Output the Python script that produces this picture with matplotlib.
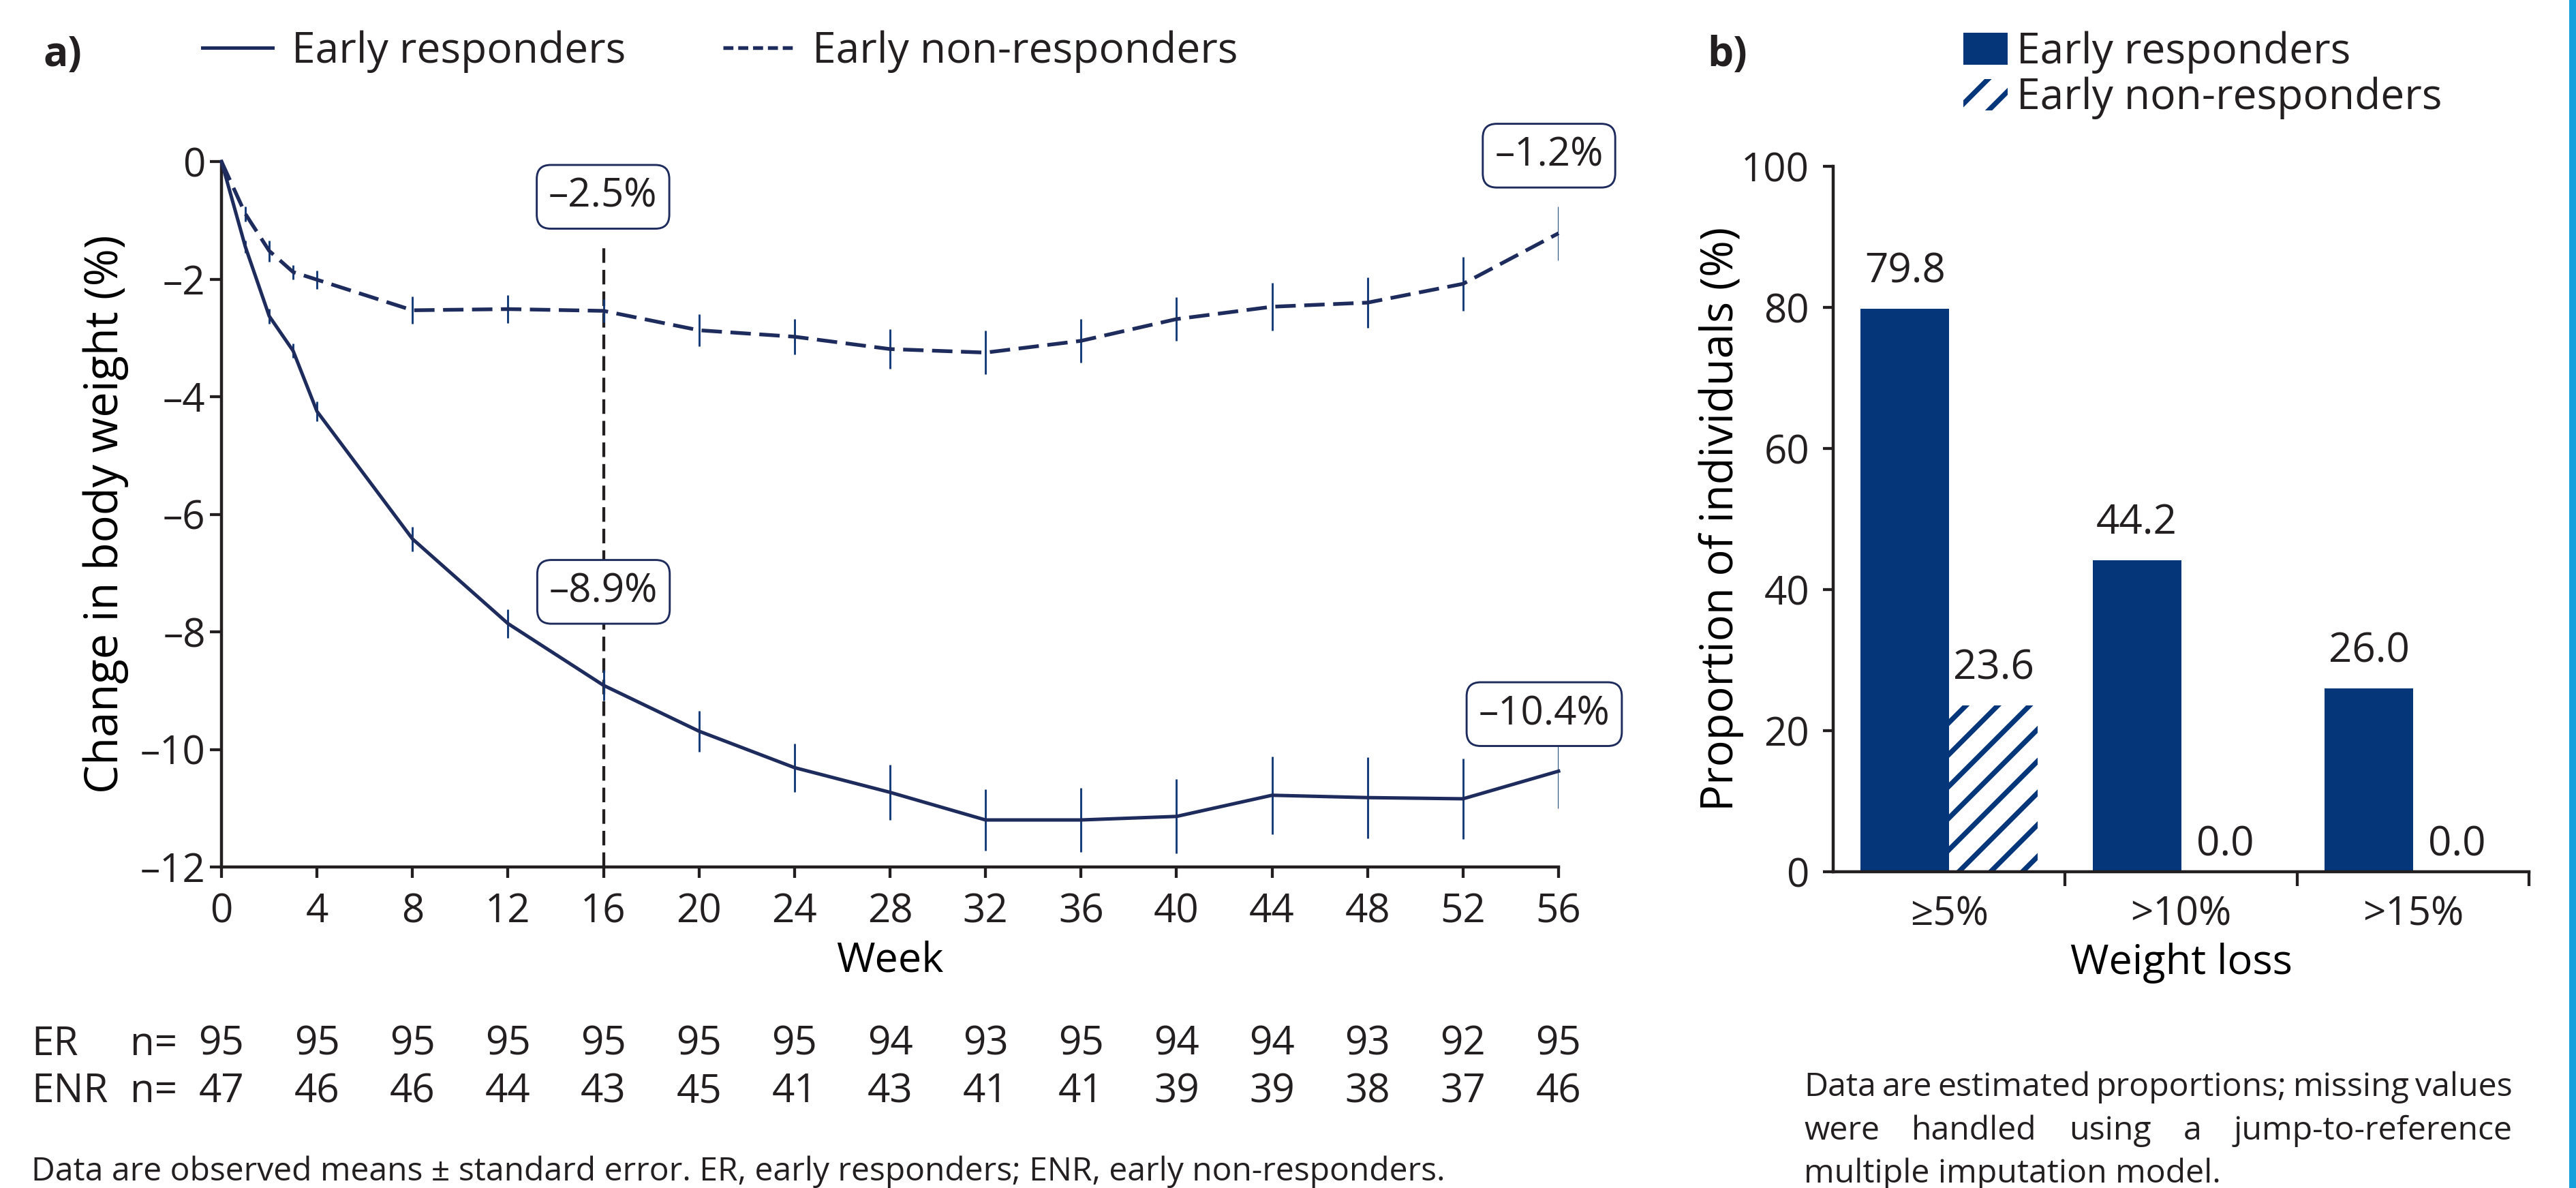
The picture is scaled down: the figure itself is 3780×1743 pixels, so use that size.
import matplotlib
matplotlib.use('Agg')
import matplotlib.pyplot as plt
import numpy as np
from matplotlib.lines import Line2D
from matplotlib.ticker import FuncFormatter
from matplotlib.transforms import blended_transform_factory

plt.rcParams['font.family'] = ['Open Sans', 'DejaVu Sans']
plt.rcParams['text.color'] = '#231f20'
plt.rcParams['axes.edgecolor'] = '#231f20'
plt.rcParams['xtick.color'] = '#231f20'
plt.rcParams['ytick.color'] = '#231f20'
plt.rcParams['hatch.linewidth'] = 3.8

# panel a data (observed means and standard errors)
weeks = [0, 1, 2, 3, 4, 8, 12, 16, 20, 24, 28, 32, 36, 40, 44, 48, 52, 56]
er_mean = [0, -1.45, -2.63, -3.22, -4.25, -6.42, -7.86, -8.91, -9.69, -10.31,
           -10.73, -11.2, -11.2, -11.14, -10.78, -10.82, -10.84, -10.37]
er_se = [0, 0.10, 0.13, 0.12, 0.17, 0.21, 0.24, 0.26, 0.35, 0.41,
         0.47, 0.52, 0.55, 0.63, 0.66, 0.69, 0.68, 0.63]
enr_mean = [0, -0.89, -1.52, -1.88, -2.01, -2.53, -2.51, -2.54, -2.87, -2.98,
            -3.19, -3.25, -3.05, -2.68, -2.47, -2.40, -2.08, -1.22]
enr_se = [0, 0.13, 0.18, 0.12, 0.16, 0.23, 0.24, 0.20, 0.27, 0.30,
          0.34, 0.37, 0.37, 0.37, 0.41, 0.43, 0.46, 0.46]

# numbers at risk
n_weeks = [0, 4, 8, 12, 16, 20, 24, 28, 32, 36, 40, 44, 48, 52, 56]
er_n = [95, 95, 95, 95, 95, 95, 95, 94, 93, 95, 94, 94, 93, 92, 95]
enr_n = [47, 46, 46, 44, 43, 45, 41, 43, 41, 41, 39, 39, 38, 37, 46]

# panel b data
categories = ['≥5%', '>10%', '>15%']
er_pct = [79.8, 44.2, 26.0]
enr_pct = [23.6, 0.0, 0.0]

NAVY = '#1e2b5d'
ERRC = '#143a78'
BAR = '#05367a'
W, H = 3780, 1743
DPI = 140

fig = plt.figure(figsize=(W / DPI, H / DPI), dpi=DPI)
renderer = fig.canvas.get_renderer()


def fxy(x, y):
    # pixel (from top-left) -> figure fraction
    return x / W, 1 - y / H


def pct(v):
    return '–{:.1f}%'.format(abs(v))


def fit_size(t, target, vertical=False):
    # scale font so the text spans target pixels
    bb = t.get_window_extent(renderer)
    span = bb.height if vertical else bb.width
    t.set_fontsize(t.get_fontsize() * target / span)


# ---------------- panel a ----------------
ax = fig.add_axes([325 / W, 1 - 1272 / H, (2287 - 325) / W, (1272 - 237) / H])
ax.errorbar(weeks[1:], er_mean[1:], yerr=er_se[1:], fmt='none', ecolor=ERRC,
            elinewidth=1.5, capsize=0, zorder=3)
ax.errorbar(weeks[1:], enr_mean[1:], yerr=enr_se[1:], fmt='none', ecolor=ERRC,
            elinewidth=1.5, capsize=0, zorder=3)
ax.plot(weeks, er_mean, color=NAVY, lw=2.6, zorder=4, clip_on=False)
ax.plot(weeks, enr_mean, color=NAVY, lw=2.8, ls=(0, (5.5, 2.3)), zorder=4, clip_on=False)

mark_week = 16
ax.vlines(mark_week, -12, -1.4, color='#231f20', lw=2.2, ls=(0, (5.0, 2.4)), zorder=2)

i16 = weeks.index(mark_week)
box = dict(boxstyle='round,pad=0.3,rounding_size=0.35', fc='white', ec=NAVY, lw=1.5)
ax.text(15.98, -0.60, pct(enr_mean[i16]), ha='center', va='center', fontsize=30,
        bbox=box, zorder=6, clip_on=False)
ax.text(16.0, -7.32, pct(er_mean[i16]), ha='center', va='center', fontsize=30,
        bbox=box, zorder=6, clip_on=False)
ax.text(55.6, 0.1, pct(enr_mean[-1]), ha='center', va='center', fontsize=30,
        bbox=box, zorder=6, clip_on=False)
ax.text(55.4, -9.4, pct(er_mean[-1]), ha='center', va='center', fontsize=30,
        bbox=box, zorder=6, clip_on=False)

ax.set_xlim(0, 56)
ax.set_ylim(-12, 0)
ax.set_xticks(range(0, 57, 4))
ax.set_yticks(range(-12, 1, 2))
ax.yaxis.set_major_formatter(FuncFormatter(lambda v, p: '{:.0f}'.format(v).replace('-', '–')))
ax.tick_params(axis='x', length=8, width=2.2, pad=11, labelsize=30)
ax.tick_params(axis='y', length=8.5, width=2.2, pad=3.5, labelsize=30)
for s in ['top', 'right']:
    ax.spines[s].set_visible(False)
for s in ['left', 'bottom']:
    ax.spines[s].set_linewidth(2.3)
ax.set_xlabel('Week', fontsize=31.5, labelpad=6)
ax.set_ylabel('Change in body weight (%)', fontsize=31.5)
fit_size(ax.yaxis.label, 819, vertical=True)
ax.yaxis.set_label_coords(-0.0867, 0.5)
ax.yaxis.label.set_va('center')

# numbers at risk
trans = blended_transform_factory(ax.transData, fig.transFigure)
for w, a, b in zip(n_weeks, er_n, enr_n):
    ax.text(w, 1 - 1548 / H, str(a), transform=trans, ha='center', va='baseline', fontsize=30)
    ax.text(w, 1 - 1617 / H, str(b), transform=trans, ha='center', va='baseline', fontsize=30)
fig.text(*fxy(46, 1548), 'ER', va='baseline', fontsize=30)
fig.text(*fxy(191, 1548), 'n=', va='baseline', fontsize=30)
fig.text(*fxy(46, 1617), 'ENR', va='baseline', fontsize=30)
fig.text(*fxy(191, 1617), 'n=', va='baseline', fontsize=30)

foot_a = fig.text(*fxy(46, 1732), 'Data are observed means ± standard error. ER, early '
                  'responders; ENR, early non-responders.', va='baseline', fontsize=24.5)
fit_size(foot_a, 2075)

fig.text(*fxy(64, 97), 'a)', va='baseline', fontsize=31, fontweight='bold')
leg_a = [Line2D([], [], color=NAVY, lw=2.6),
         Line2D([], [], color=NAVY, lw=2.8, ls=(0, (2.7, 1.3)))]
fig.legend(leg_a, ['Early responders', 'Early non-responders'], ncol=2,
           loc='center left', bbox_to_anchor=fxy(297, 76), frameon=False,
           fontsize=32, handlelength=1.65, handletextpad=0.45, columnspacing=2.3,
           borderpad=0, borderaxespad=0)

# ---------------- panel b ----------------
ax2 = fig.add_axes([2690 / W, 1 - 1279 / H, 1021 / W, (1279 - 244) / H])
x = np.arange(len(categories))
bw = 0.381
b1 = ax2.bar(x - bw / 2, er_pct, bw, color=BAR, lw=0)
b2 = ax2.bar(x + bw / 2, enr_pct, bw, color='white', edgecolor=BAR, hatch='/', lw=0)
for xs, vals in [(x - bw / 2, er_pct), (x + bw / 2, enr_pct)]:
    for xi, v in zip(xs, vals):
        ax2.text(xi, v + (3.7 if v > 0 else 2.3), '{:.1f}'.format(v),
                 ha='center', va='baseline', fontsize=31)

ax2.set_xlim(-0.5, 2.5)
ax2.set_ylim(0, 100)
ax2.set_xticks([0.5, 1.5, 2.5])
ax2.set_xticklabels([])
ax2.set_xticks(x, minor=True)
ax2.set_xticklabels(categories, minor=True)
ax2.tick_params(axis='x', which='major', length=11, width=2.2)
ax2.tick_params(axis='x', which='minor', length=0, pad=17.5, labelsize=30)
ax2.set_yticks(range(0, 101, 20))
ax2.tick_params(axis='y', length=7.5, width=2.2, pad=10.5, labelsize=30)
for s in ['top', 'right']:
    ax2.spines[s].set_visible(False)
for s in ['left', 'bottom']:
    ax2.spines[s].set_linewidth(2.3)
ax2.set_xlabel('Weight loss', fontsize=31.5, labelpad=6)
ax2.set_ylabel('Proportion of individuals (%)', fontsize=31.5)
fit_size(ax2.yaxis.label, 857, vertical=True)
ax2.yaxis.set_label_coords(-0.161, 0.5)
ax2.yaxis.label.set_va('center')

fig.text(*fxy(2505, 97), 'b)', va='baseline', fontsize=31, fontweight='bold')
fig.legend([b1, b2], ['Early responders', 'Early non-responders'],
           loc='center left', bbox_to_anchor=fxy(2881, 110.5), frameon=False,
           fontsize=32, handlelength=1.04, handleheight=0.77, handletextpad=0.22,
           labelspacing=0.08, borderpad=0, borderaxespad=0)

# justified footnote for panel b
foot_b3 = fig.text(*fxy(2647, 1735), 'multiple imputation model.', va='baseline', fontsize=26)
fit_size(foot_b3, 613)
fsize_b = foot_b3.get_fontsize()


def justified(line, x0, x1, ybase, size):
    words = line.split()
    texts = [fig.text(0, 0, wd, fontsize=size, va='baseline') for wd in words]
    widths = [t.get_window_extent(renderer).width for t in texts]
    gap = (x1 - x0 - sum(widths)) / (len(words) - 1)
    cx = x0
    for t, wdt in zip(texts, widths):
        t.set_position(fxy(cx, ybase))
        cx += wdt + gap


justified('Data are estimated proportions; missing values', 2647, 3687, 1608, fsize_b)
justified('were handled using a jump-to-reference', 2647, 3687, 1672, fsize_b)

# page border on the right
fig.add_artist(Line2D([3774.5 / W] * 2, [0, 1], transform=fig.transFigure,
                      color='#17a1dc', lw=11 / DPI * 72))

fig.savefig('out.png', dpi=DPI)
